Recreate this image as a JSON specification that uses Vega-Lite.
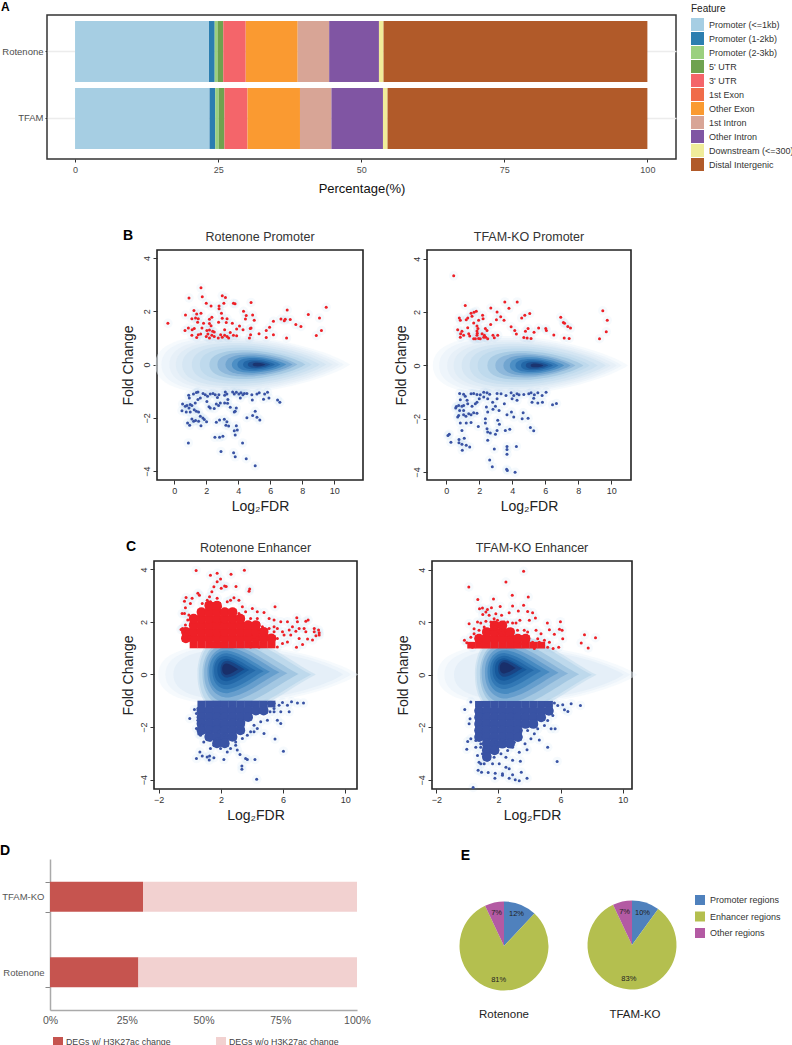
{"$schema":"https://vega.github.io/schema/vega-lite/v6.json","padding":0,"background":"white","bounds":"flush","spacing":0,
"resolve":{"scale":{"color":"independent","size":"independent","theta":"independent"},"legend":{"color":"independent"}},
"config":{"font":"Liberation Sans","axis":{"grid":false,"domain":false,"tickColor":"#333","tickSize":4,"labelColor":"#333","labelFontSize":9,"titleFontWeight":"normal","titleFontSize":14,"titleColor":"#222","titlePadding":7},"title":{"fontSize":12.5,"fontWeight":"normal","color":"#333","offset":7},"legend":{"symbolType":"square","titleFontWeight":"normal","labelColor":"#333","symbolStrokeWidth":0},"view":{"stroke":"#222","strokeWidth":1.6},
"style":{"flat":{"shape":"M-1,0C-1,-.22,-.7,-.31,-.2,-.3C.3,-.28,.8,-.13,1,0C.8,.13,.3,.28,-.2,.3C-.7,.31,-1,.22,-1,0Z","filled":true,"opacity":0.5,"strokeWidth":0,"clip":true},"round":{"shape":"M-1,0C-1,-.5,-.7,-.72,-.4,-.7C.1,-.62,.6,-.2,1,0C.6,.2,.1,.62,-.4,.7C-.7,.72,-1,.5,-1,0Z","filled":true,"opacity":0.5,"strokeWidth":0,"clip":true},"halo":{"filled":true,"size":90,"opacity":0.06,"color":"#6baed6","strokeWidth":0,"clip":true},"dot":{"filled":true,"size":9,"opacity":1,"strokeWidth":0,"clip":true},"blob":{"filled":true,"size":95,"opacity":1,"strokeWidth":0,"clip":true}}},
"datasets":{
"h1":[{"x":4.9,"y":0,"s":12.2,"d":0},{"x":4.9,"y":0,"s":11.4,"d":0.04},{"x":5,"y":0,"s":10.6,"d":0.08},{"x":5,"y":0,"s":9.8,"d":0.12},{"x":5,"y":0,"s":9,"d":0.18},{"x":5.1,"y":0,"s":8,"d":0.24},{"x":5.1,"y":0,"s":7,"d":0.3},{"x":5.2,"y":0,"s":6,"d":0.38},{"x":5.2,"y":0,"s":5,"d":0.45},{"x":5.3,"y":0,"s":4.2,"d":0.52},{"x":5.3,"y":0,"s":3.4,"d":0.6},{"x":5.3,"y":0,"s":2.7,"d":0.7},{"x":5.3,"y":0,"s":2,"d":0.8},{"x":5.3,"y":0,"s":1.4,"d":0.9},{"x":5.3,"y":0,"s":0.8,"d":1}],
"h2":[{"x":5.1,"y":0,"s":12.2,"d":0},{"x":5.1,"y":0,"s":11.4,"d":0.04},{"x":5.2,"y":0,"s":10.6,"d":0.08},{"x":5.2,"y":0,"s":9.8,"d":0.12},{"x":5.3,"y":0,"s":9,"d":0.18},{"x":5.3,"y":0,"s":8,"d":0.24},{"x":5.3,"y":0,"s":7,"d":0.3},{"x":5.4,"y":0,"s":6,"d":0.38},{"x":5.4,"y":0,"s":5,"d":0.45},{"x":5.5,"y":0,"s":4.2,"d":0.52},{"x":5.5,"y":0,"s":3.4,"d":0.6},{"x":5.5,"y":0,"s":2.7,"d":0.7},{"x":5.5,"y":0,"s":2,"d":0.8},{"x":5.5,"y":0,"s":1.4,"d":0.9},{"x":5.5,"y":0,"s":0.8,"d":1}],
"h3f":[{"x":4.4,"y":0,"s":12.5,"d":0},{"x":4.4,"y":0,"s":11.6,"d":0.04},{"x":4.4,"y":0,"s":10.6,"d":0.1}],
"h3r":[{"x":4.3,"y":0,"s":7.4,"d":0.25},{"x":4.2,"y":0,"s":7,"d":0.32},{"x":3.9,"y":0.02,"s":6,"d":0.4},{"x":3.6,"y":0.05,"s":5.2,"d":0.47},{"x":3.45,"y":0.08,"s":4.5,"d":0.55},{"x":3.2,"y":0.1,"s":3.8,"d":0.62},{"x":3.1,"y":0.12,"s":3.2,"d":0.7},{"x":2.9,"y":0.15,"s":2.6,"d":0.78},{"x":2.8,"y":0.17,"s":2,"d":0.85},{"x":2.75,"y":0.2,"s":1.5,"d":0.93},{"x":2.6,"y":0.2,"s":1,"d":1}],
"h4f":[{"x":4.5,"y":0,"s":12.5,"d":0},{"x":4.5,"y":0,"s":11.6,"d":0.04},{"x":4.6,"y":0,"s":10.6,"d":0.1}],
"h4r":[{"x":4.4,"y":0,"s":7.6,"d":0.25},{"x":4.3,"y":0,"s":7.2,"d":0.32},{"x":4,"y":0.02,"s":6.2,"d":0.4},{"x":3.7,"y":0.05,"s":5.4,"d":0.47},{"x":3.5,"y":0.08,"s":4.6,"d":0.55},{"x":3.3,"y":0.1,"s":3.9,"d":0.62},{"x":3.1,"y":0.14,"s":3.2,"d":0.7},{"x":2.95,"y":0.17,"s":2.6,"d":0.78},{"x":2.8,"y":0.2,"s":2,"d":0.85},{"x":2.75,"y":0.24,"s":1.5,"d":0.93},{"x":2.6,"y":0.26,"s":1,"d":1}],
"c1c":[{"x":0.25,"y":1.125},{"x":0.75,"y":1.125},{"x":1.25,"y":1.125},{"x":1.75,"y":1.125},{"x":2.25,"y":1.125},{"x":2.75,"y":1.125},{"x":3.25,"y":1.125},{"x":3.75,"y":1.125},{"x":4.25,"y":1.125},{"x":4.75,"y":1.125},{"x":5.25,"y":1.125},{"x":-0.25,"y":1.375},{"x":0.25,"y":1.375},{"x":0.75,"y":1.375},{"x":1.25,"y":1.375},{"x":1.75,"y":1.375},{"x":2.25,"y":1.375},{"x":2.75,"y":1.375},{"x":3.25,"y":1.375},{"x":3.75,"y":1.375},{"x":4.25,"y":1.375},{"x":4.75,"y":1.375},{"x":5.25,"y":1.375},{"x":-0.25,"y":1.625},{"x":0.25,"y":1.625},{"x":0.75,"y":1.625},{"x":1.25,"y":1.625},{"x":1.75,"y":1.625},{"x":2.25,"y":1.625},{"x":2.75,"y":1.625},{"x":3.25,"y":1.625},{"x":3.75,"y":1.625},{"x":4.25,"y":1.625},{"x":4.75,"y":1.625},{"x":0.25,"y":1.875},{"x":0.75,"y":1.875},{"x":1.25,"y":1.875},{"x":1.75,"y":1.875},{"x":2.25,"y":1.875},{"x":2.75,"y":1.875},{"x":3.25,"y":1.875},{"x":3.75,"y":1.875},{"x":4.25,"y":1.875},{"x":0.25,"y":2.125},{"x":0.75,"y":2.125},{"x":1.25,"y":2.125},{"x":1.75,"y":2.125},{"x":2.25,"y":2.125},{"x":2.75,"y":2.125},{"x":3.25,"y":2.125},{"x":0.75,"y":2.375},{"x":1.25,"y":2.375},{"x":1.75,"y":2.375},{"x":2.25,"y":2.375},{"x":2.75,"y":2.375},{"x":1.25,"y":2.625},{"x":1.75,"y":2.625},{"x":0.75,"y":-1.125},{"x":1.25,"y":-1.125},{"x":1.75,"y":-1.125},{"x":2.25,"y":-1.125},{"x":2.75,"y":-1.125},{"x":3.25,"y":-1.125},{"x":3.75,"y":-1.125},{"x":4.25,"y":-1.125},{"x":4.75,"y":-1.125},{"x":5.25,"y":-1.125},{"x":0.75,"y":-1.375},{"x":1.25,"y":-1.375},{"x":1.75,"y":-1.375},{"x":2.25,"y":-1.375},{"x":2.75,"y":-1.375},{"x":3.25,"y":-1.375},{"x":3.75,"y":-1.375},{"x":4.25,"y":-1.375},{"x":4.75,"y":-1.375},{"x":0.75,"y":-1.625},{"x":1.25,"y":-1.625},{"x":1.75,"y":-1.625},{"x":2.25,"y":-1.625},{"x":2.75,"y":-1.625},{"x":3.25,"y":-1.625},{"x":3.75,"y":-1.625},{"x":0.75,"y":-1.875},{"x":1.25,"y":-1.875},{"x":1.75,"y":-1.875},{"x":2.25,"y":-1.875},{"x":2.75,"y":-1.875},{"x":3.25,"y":-1.875},{"x":0.75,"y":-2.125},{"x":1.25,"y":-2.125},{"x":1.75,"y":-2.125},{"x":2.25,"y":-2.125},{"x":2.75,"y":-2.125},{"x":3.25,"y":-2.125},{"x":1.25,"y":-2.375},{"x":1.75,"y":-2.375},{"x":2.25,"y":-2.375},{"x":2.75,"y":-2.375},{"x":1.75,"y":-2.625},{"x":2.25,"y":-2.625}],
"c2c":[{"x":0.25,"y":1.125},{"x":0.75,"y":1.125},{"x":1.25,"y":1.125},{"x":1.75,"y":1.125},{"x":2.25,"y":1.125},{"x":2.75,"y":1.125},{"x":3.25,"y":1.125},{"x":3.75,"y":1.125},{"x":4.25,"y":1.125},{"x":4.75,"y":1.125},{"x":0.75,"y":1.375},{"x":1.25,"y":1.375},{"x":1.75,"y":1.375},{"x":2.25,"y":1.375},{"x":2.75,"y":1.375},{"x":3.25,"y":1.375},{"x":3.75,"y":1.375},{"x":1.25,"y":1.625},{"x":1.75,"y":1.625},{"x":2.25,"y":1.625},{"x":2.75,"y":1.625},{"x":1.75,"y":1.875},{"x":2.25,"y":1.875},{"x":0.75,"y":-1.125},{"x":1.25,"y":-1.125},{"x":1.75,"y":-1.125},{"x":2.25,"y":-1.125},{"x":2.75,"y":-1.125},{"x":3.25,"y":-1.125},{"x":3.75,"y":-1.125},{"x":4.25,"y":-1.125},{"x":4.75,"y":-1.125},{"x":5.25,"y":-1.125},{"x":0.75,"y":-1.375},{"x":1.25,"y":-1.375},{"x":1.75,"y":-1.375},{"x":2.25,"y":-1.375},{"x":2.75,"y":-1.375},{"x":3.25,"y":-1.375},{"x":3.75,"y":-1.375},{"x":4.25,"y":-1.375},{"x":4.75,"y":-1.375},{"x":5.25,"y":-1.375},{"x":0.75,"y":-1.625},{"x":1.25,"y":-1.625},{"x":1.75,"y":-1.625},{"x":2.25,"y":-1.625},{"x":2.75,"y":-1.625},{"x":3.25,"y":-1.625},{"x":3.75,"y":-1.625},{"x":4.25,"y":-1.625},{"x":4.75,"y":-1.625},{"x":0.75,"y":-1.875},{"x":1.25,"y":-1.875},{"x":1.75,"y":-1.875},{"x":2.25,"y":-1.875},{"x":2.75,"y":-1.875},{"x":3.25,"y":-1.875},{"x":3.75,"y":-1.875},{"x":4.25,"y":-1.875},{"x":0.75,"y":-2.125},{"x":1.25,"y":-2.125},{"x":1.75,"y":-2.125},{"x":2.25,"y":-2.125},{"x":2.75,"y":-2.125},{"x":3.25,"y":-2.125},{"x":0.75,"y":-2.375},{"x":1.25,"y":-2.375},{"x":1.75,"y":-2.375},{"x":2.25,"y":-2.375},{"x":2.75,"y":-2.375},{"x":3.25,"y":-2.375},{"x":1.25,"y":-2.625},{"x":1.75,"y":-2.625},{"x":2.25,"y":-2.625},{"x":2.75,"y":-2.625},{"x":1.25,"y":-2.875},{"x":1.75,"y":-2.875},{"x":1.25,"y":-3.125}],
"b1":[{"x":-0.4,"y":1.55},{"x":1.67,"y":2.88},{"x":0.92,"y":2.5},{"x":1.75,"y":2.55},{"x":3,"y":2.58},{"x":3.2,"y":2.52},{"x":2,"y":2.3},{"x":2.3,"y":2.2},{"x":2.8,"y":2.2},{"x":2.8,"y":2.1},{"x":3.1,"y":2.3},{"x":3.7,"y":2.3},{"x":3.8,"y":2.28},{"x":4.8,"y":2.33},{"x":1.23,"y":2.03},{"x":0.7,"y":1.86},{"x":1.4,"y":1.9},{"x":1.67,"y":1.93},{"x":2.95,"y":1.93},{"x":4.33,"y":2},{"x":4.5,"y":1.84},{"x":4.9,"y":1.86},{"x":1.1,"y":1.72},{"x":1.33,"y":1.75},{"x":1.5,"y":1.72},{"x":2.35,"y":1.78},{"x":2.2,"y":1.7},{"x":3,"y":1.74},{"x":3.3,"y":1.72},{"x":4.45,"y":1.71},{"x":5,"y":1.66},{"x":1.46,"y":1.59},{"x":1.83,"y":1.55},{"x":2.2,"y":1.54},{"x":2.77,"y":1.59},{"x":3.25,"y":1.58},{"x":3.63,"y":1.55},{"x":2.3,"y":1.46},{"x":4.08,"y":1.45},{"x":6.2,"y":1.63},{"x":6.67,"y":1.71},{"x":6.88,"y":1.65},{"x":6.94,"y":1.7},{"x":7.06,"y":2.05},{"x":7.25,"y":1.69},{"x":7.6,"y":1.5},{"x":7.92,"y":1.43},{"x":8.38,"y":1.88},{"x":9.08,"y":1.75},{"x":9.5,"y":2.15},{"x":9.2,"y":1.28},{"x":8.88,"y":1.09},{"x":0.88,"y":1.37},{"x":0.67,"y":1.28},{"x":1.12,"y":1.31},{"x":1.25,"y":1.35},{"x":1.73,"y":1.37},{"x":2.04,"y":1.28},{"x":2.2,"y":1.3},{"x":2.4,"y":1.25},{"x":2.5,"y":1.22},{"x":3.15,"y":1.31},{"x":3.9,"y":1.34},{"x":4.3,"y":1.31},{"x":4.75,"y":1.35},{"x":4.8,"y":1.37},{"x":5.96,"y":1.4},{"x":5.75,"y":1.28},{"x":6.2,"y":1.12},{"x":5.3,"y":1.16},{"x":4.77,"y":1.12},{"x":4.7,"y":1},{"x":5.75,"y":1.02},{"x":7.02,"y":1},{"x":1.1,"y":1.1},{"x":1.4,"y":1.02},{"x":1.5,"y":1.12},{"x":1.65,"y":1.15},{"x":2,"y":1.05},{"x":2.1,"y":1.15},{"x":2.2,"y":1},{"x":2.35,"y":1.1},{"x":2.5,"y":1.05},{"x":2.75,"y":1},{"x":2.9,"y":1.12},{"x":3,"y":1.03},{"x":3.15,"y":1.1},{"x":3.3,"y":1.05},{"x":3.4,"y":1},{"x":3.7,"y":1.1},{"x":3.5,"y":1.2},{"x":3.9,"y":1.08},
{"x":0.9,"y":-1.15},{"x":0.94,"y":-1.25},{"x":1.2,"y":-1.1},{"x":1.38,"y":-1.05},{"x":1.48,"y":-1.03},{"x":1.8,"y":-1.08},{"x":1.94,"y":-1.13},{"x":2.08,"y":-1.19},{"x":2.25,"y":-1.1},{"x":2.42,"y":-1.08},{"x":2.56,"y":-1.13},{"x":2.7,"y":-1.23},{"x":2.79,"y":-1.13},{"x":3.19,"y":-1.03},{"x":3.15,"y":-1.15},{"x":3.29,"y":-1.1},{"x":3.65,"y":-1.03},{"x":3.75,"y":-1.1},{"x":3.88,"y":-1.04},{"x":4.04,"y":-1.1},{"x":4.17,"y":-1.06},{"x":4.29,"y":-1.13},{"x":4.38,"y":-1.08},{"x":4.54,"y":-1.08},{"x":4.85,"y":-1.13},{"x":5.17,"y":-1.1},{"x":5.31,"y":-1.06},{"x":5.65,"y":-1.1},{"x":5.83,"y":-1.04},{"x":5.92,"y":-1.25},{"x":5.58,"y":-1.3},{"x":4.88,"y":-1.33},{"x":4.13,"y":-1.25},{"x":3.35,"y":-1.31},{"x":3.33,"y":-1.45},{"x":3.15,"y":-1.44},{"x":2.77,"y":-1.53},{"x":2.63,"y":-1.48},{"x":2.88,"y":-1.44},{"x":2.17,"y":-1.58},{"x":2.04,"y":-1.38},{"x":1.63,"y":-1.25},{"x":1.48,"y":-1.31},{"x":1.31,"y":-1.44},{"x":1.1,"y":-1.53},{"x":1,"y":-1.5},{"x":0.79,"y":-1.53},{"x":0.52,"y":-1.48},{"x":0.69,"y":-1.56},{"x":0.92,"y":-1.63},{"x":1.25,"y":-1.69},{"x":0.48,"y":-1.73},{"x":0.75,"y":-1.78},{"x":1,"y":-1.78},{"x":1.38,"y":-1.75},{"x":1.52,"y":-1.78},{"x":1.63,"y":-1.94},{"x":1.79,"y":-2},{"x":1.88,"y":-2.06},{"x":2.25,"y":-1.63},{"x":2.5,"y":-1.65},{"x":3.5,"y":-1.6},{"x":3.88,"y":-1.63},{"x":3.81,"y":-1.75},{"x":3.75,"y":-1.78},{"x":5.06,"y":-1.75},{"x":4.9,"y":-1.91},{"x":5.17,"y":-1.98},{"x":5.35,"y":-2.08},{"x":4.54,"y":-1.99},{"x":1.1,"y":-2.04},{"x":1.21,"y":-2.13},{"x":1.33,"y":-2.1},{"x":1.52,"y":-2.13},{"x":0.83,"y":-2.19},{"x":0.96,"y":-2.28},{"x":1.67,"y":-2.29},{"x":2.02,"y":-2.14},{"x":2.63,"y":-2.16},{"x":2.83,"y":-2.08},{"x":3.13,"y":-2.05},{"x":3.29,"y":-2.14},{"x":3.23,"y":-2.28},{"x":3.4,"y":-2.3},{"x":3.88,"y":-2.29},{"x":3.94,"y":-2.45},{"x":3.75,"y":-2.48},{"x":3.81,"y":-2.64},{"x":2.54,"y":-2.73},{"x":2.83,"y":-2.73},{"x":3.04,"y":-2.69},{"x":4.27,"y":-2.94},{"x":0.88,"y":-2.94},{"x":2.92,"y":-3.26},{"x":3.71,"y":-3.31},{"x":3.81,"y":-3.46},{"x":4.5,"y":-3.53},{"x":5.06,"y":-3.8},{"x":6.46,"y":-1.33},{"x":6.6,"y":-1.41}],
"b2":[{"x":0.45,"y":3.36},{"x":1.15,"y":2.25},{"x":3.55,"y":2.38},{"x":4.3,"y":2.38},{"x":2.7,"y":2.15},{"x":3.8,"y":2.14},{"x":3.08,"y":2},{"x":3.3,"y":1.83},{"x":3.04,"y":1.71},{"x":3.5,"y":1.69},{"x":1.5,"y":1.96},{"x":1.68,"y":1.99},{"x":1.82,"y":2.03},{"x":2.2,"y":1.88},{"x":2.23,"y":1.75},{"x":1.96,"y":1.69},{"x":1.56,"y":1.84},{"x":1.3,"y":1.78},{"x":1.21,"y":1.71},{"x":0.79,"y":1.78},{"x":0.85,"y":1.69},{"x":4.57,"y":1.78},{"x":4.76,"y":1.88},{"x":5.06,"y":1.95},{"x":6.94,"y":1.81},{"x":7.1,"y":1.61},{"x":7.17,"y":1.58},{"x":7.37,"y":1.46},{"x":7.53,"y":1.4},{"x":9.49,"y":2.05},{"x":9.76,"y":1.69},{"x":9.7,"y":1.26},{"x":9.29,"y":1},{"x":7.15,"y":1.03},{"x":7.45,"y":1.01},{"x":6.52,"y":1.14},{"x":6.03,"y":1.38},{"x":6.07,"y":1.31},{"x":5.6,"y":1.4},{"x":5.32,"y":1.24},{"x":4.96,"y":1.38},{"x":4.8,"y":1.28},{"x":4.7,"y":1.05},{"x":4.9,"y":1.03},{"x":5.14,"y":1.01},{"x":4.25,"y":1.18},{"x":4.15,"y":1.31},{"x":3.93,"y":1.45},{"x":1.66,"y":1.59},{"x":1.86,"y":1.48},{"x":1.92,"y":1.38},{"x":1.86,"y":1.29},{"x":1.88,"y":1.21},{"x":0.69,"y":1.34},{"x":0.95,"y":1.28},{"x":0.87,"y":1.19},{"x":0.85,"y":1.06},{"x":1.05,"y":1.13},{"x":1.3,"y":1.41},{"x":1.36,"y":1.19},{"x":1.42,"y":1.1},{"x":1.66,"y":1},{"x":1.76,"y":1},{"x":1.96,"y":1.01},{"x":2.06,"y":1},{"x":1.86,"y":1.13},{"x":2.17,"y":1.19},{"x":2.37,"y":1.38},{"x":2.47,"y":1.31},{"x":2.31,"y":1.13},{"x":2.39,"y":1.06},{"x":2.51,"y":1},{"x":2.83,"y":1.13},{"x":2.91,"y":1.04},{"x":3.12,"y":1.13},{"x":2.69,"y":1.53},{"x":2.27,"y":1.06},
{"x":0.81,"y":-1.05},{"x":1.05,"y":-1.08},{"x":1.15,"y":-1.16},{"x":0.85,"y":-1.29},{"x":1.26,"y":-1.31},{"x":1.5,"y":-1.06},{"x":1.66,"y":-1.05},{"x":1.86,"y":-1.09},{"x":2.06,"y":-1.1},{"x":2.27,"y":-1.01},{"x":2.47,"y":-1.03},{"x":2.63,"y":-1.08},{"x":2.51,"y":-1.25},{"x":2.27,"y":-1.19},{"x":2,"y":-1.25},{"x":1.86,"y":-1.38},{"x":1.76,"y":-1.44},{"x":1.56,"y":-1.53},{"x":1.3,"y":-1.44},{"x":1.05,"y":-1.5},{"x":0.95,"y":-1.53},{"x":0.75,"y":-1.5},{"x":0.61,"y":-1.54},{"x":0.57,"y":-1.6},{"x":0.81,"y":-1.69},{"x":1.05,"y":-1.69},{"x":0.69,"y":-1.94},{"x":0.75,"y":-1.88},{"x":1.05,"y":-1.85},{"x":1.19,"y":-1.91},{"x":1.36,"y":-1.81},{"x":1.5,"y":-1.85},{"x":1.86,"y":-1.8},{"x":1.66,"y":-1.78},{"x":3.08,"y":-1.05},{"x":3.32,"y":-1.06},{"x":3.62,"y":-1.13},{"x":3.93,"y":-1.03},{"x":4.09,"y":-1.13},{"x":4.29,"y":-1.06},{"x":4.41,"y":-1.1},{"x":4.7,"y":-1.09},{"x":5,"y":-1.06},{"x":5.14,"y":-1.03},{"x":5.34,"y":-1.1},{"x":5.55,"y":-1.03},{"x":5.81,"y":-1.13},{"x":6.05,"y":-1.01},{"x":3.08,"y":-1.25},{"x":3.52,"y":-1.44},{"x":3.99,"y":-1.25},{"x":4.29,"y":-1.31},{"x":5.3,"y":-1.23},{"x":5.2,"y":-1.38},{"x":5.55,"y":-1.41},{"x":5.83,"y":-1.38},{"x":6.44,"y":-1.48},{"x":6.68,"y":-1.43},{"x":2.81,"y":-1.38},{"x":2.98,"y":-1.53},{"x":2.83,"y":-1.65},{"x":3.2,"y":-1.69},{"x":2.43,"y":-1.56},{"x":2.51,"y":-1.75},{"x":3.68,"y":-1.85},{"x":3.95,"y":-1.75},{"x":4.09,"y":-1.94},{"x":4.66,"y":-1.78},{"x":4.6,"y":-2},{"x":4.96,"y":-1.98},{"x":2.37,"y":-2},{"x":3.12,"y":-2.06},{"x":3.22,"y":-2.21},{"x":0.85,"y":-2.16},{"x":1.21,"y":-2.16},{"x":1.5,"y":-2.14},{"x":0.95,"y":-2.44},{"x":1.94,"y":-2.29},{"x":2.37,"y":-2.16},{"x":2.47,"y":-2.38},{"x":2.51,"y":-2.5},{"x":2.67,"y":-2.54},{"x":2.98,"y":-2.58},{"x":3.08,"y":-2.44},{"x":3.58,"y":-2.44},{"x":3.85,"y":-2.4},{"x":5.1,"y":-2.33},{"x":5.3,"y":-2.45},{"x":0.18,"y":-2.58},{"x":0.1,"y":-2.63},{"x":0.28,"y":-2.88},{"x":0.77,"y":-2.78},{"x":1.09,"y":-2.73},{"x":0.77,"y":-2.9},{"x":0.95,"y":-2.96},{"x":1.21,"y":-3},{"x":1.42,"y":-3.06},{"x":0.97,"y":-3.18},{"x":2.51,"y":-2.81},{"x":2.91,"y":-3.14},{"x":3.68,"y":-3.04},{"x":3.68,"y":-3.16},{"x":3.68,"y":-3.33},{"x":4.25,"y":-3.04},{"x":2.63,"y":-3.55},{"x":2.79,"y":-3.8},{"x":3.66,"y":-3.9},{"x":3.7,"y":-3.94},{"x":4.17,"y":-4.01}],
"c1":[{"x":0.41,"y":3.96},{"x":3.51,"y":3.97},{"x":1.33,"y":3.78},{"x":1.76,"y":3.85},{"x":2.65,"y":3.82},{"x":1.98,"y":3.63},{"x":1.76,"y":3.53},{"x":1.55,"y":3.34},{"x":2.24,"y":3.37},{"x":2.34,"y":3.35},{"x":2.97,"y":3.35},{"x":2.02,"y":3.28},{"x":1.42,"y":3.15},{"x":1.27,"y":2.96},{"x":3.85,"y":3.25},{"x":3.81,"y":3.17},{"x":0.52,"y":3.09},{"x":0.62,"y":3.02},{"x":-0.24,"y":2.93},{"x":-0.34,"y":2.79},{"x":0.15,"y":2.9},{"x":2.84,"y":2.92},{"x":3.16,"y":2.83},{"x":0.04,"y":2.7},{"x":2.62,"y":2.83},{"x":-0.28,"y":2.54},{"x":-0.49,"y":2.32},{"x":-0.34,"y":2.32},{"x":-0.47,"y":1.75},{"x":-0.28,"y":1.88},{"x":-0.13,"y":2.07},{"x":-0.22,"y":1.63},{"x":-0.04,"y":1.43},{"x":-0.56,"y":1.71},{"x":-0.06,"y":2.26},{"x":5.48,"y":2.58},{"x":3.38,"y":2.58},{"x":4.02,"y":2.51},{"x":4.34,"y":2.39},{"x":4.77,"y":2.36},{"x":4.34,"y":2.13},{"x":5.1,"y":2.13},{"x":5.42,"y":2.07},{"x":5.85,"y":2.01},{"x":6.28,"y":2.01},{"x":6.88,"y":2.16},{"x":6.92,"y":2.01},{"x":7.46,"y":2.03},{"x":7.61,"y":2.07},{"x":6.6,"y":1.82},{"x":7.35,"y":1.75},{"x":8,"y":1.75},{"x":8.28,"y":1.69},{"x":8,"y":1.63},{"x":8.32,"y":1.59},{"x":8.11,"y":1.47},{"x":8.32,"y":1.5},{"x":7.46,"y":1.63},{"x":7.03,"y":1.37},{"x":7.57,"y":1.35},{"x":7.89,"y":1.31},{"x":7.25,"y":1.14},{"x":6.86,"y":1.04},{"x":6.49,"y":1.5},{"x":6.28,"y":1.24},{"x":5.96,"y":1.63},{"x":5.63,"y":1.75},{"x":5.42,"y":1.63},{"x":5.1,"y":1.75},{"x":4.67,"y":1.82},{"x":4.99,"y":1.5},{"x":5.63,"y":1.37},{"x":5.96,"y":1.18},{"x":5.63,"y":1.05},{"x":5.2,"y":1.12},{"x":4.99,"y":1.37},{"x":4.45,"y":1.63},{"x":4.24,"y":1.88},{"x":3.91,"y":2.13},{"x":3.59,"y":2.39},{"x":3.16,"y":2.32},{"x":4.13,"y":1.43},{"x":4.67,"y":1.24},{"x":4.45,"y":1.05},{"x":3.91,"y":1.05},{"x":2.41,"y":2.77},{"x":1.33,"y":2.77},{"x":1.76,"y":2.9},{"x":1.12,"y":2.83},{"x":0.8,"y":2.7},{"x":1.98,"y":2.58},{"x":5.42,"y":1.82},{"x":6.39,"y":1.69},{"x":6.06,"y":1.5},{"x":6.82,"y":1.65},{"x":7.03,"y":1.75},
{"x":0,"y":-1.68},{"x":0.3,"y":-1.33},{"x":0.52,"y":-1.3},{"x":0.43,"y":-1.49},{"x":0.43,"y":-2.06},{"x":0.58,"y":-2.27},{"x":0.65,"y":-2.95},{"x":0.43,"y":-3.2},{"x":0.8,"y":-3.1},{"x":1.12,"y":-3.14},{"x":1.27,"y":-3.1},{"x":1.25,"y":-3.26},{"x":2.19,"y":-3.24},{"x":1.55,"y":-3.17},{"x":3.23,"y":-3.05},{"x":3.59,"y":-3.2},{"x":3.7,"y":-3.24},{"x":4.19,"y":-3.24},{"x":3.35,"y":-3.48},{"x":3.35,"y":-3.61},{"x":4.3,"y":-3.99},{"x":5.48,"y":-2.46},{"x":6.02,"y":-2.92},{"x":6.39,"y":-1.42},{"x":6.92,"y":-1.09},{"x":7.31,"y":-1.09},{"x":5.96,"y":-1.07},{"x":6.28,"y":-1.17},{"x":6.54,"y":-1.04},{"x":5.74,"y":-1.17},{"x":5.42,"y":-1.3},{"x":5.16,"y":-1.42},{"x":5.63,"y":-1.74},{"x":5.85,"y":-1.87},{"x":4.77,"y":-2.25},{"x":4.34,"y":-2.06},{"x":3.91,"y":-2.18},{"x":3.38,"y":-2.44},{"x":2.95,"y":-2.69},{"x":2.41,"y":-2.95},{"x":1.98,"y":-2.82},{"x":1.33,"y":-2.82},{"x":0.9,"y":-2.57},{"x":0.69,"y":-2.31},{"x":1.01,"y":-2.18},{"x":1.33,"y":-2.5},{"x":1.76,"y":-2.44},{"x":2.19,"y":-2.31},{"x":2.41,"y":-2.57},{"x":2.84,"y":-2.18},{"x":3.16,"y":-2.06},{"x":3.48,"y":-1.8},{"x":3.91,"y":-1.68},{"x":4.34,"y":-1.49},{"x":4.77,"y":-1.3},{"x":4.99,"y":-1.74},{"x":5.42,"y":-1.42},{"x":4.56,"y":-1.8},{"x":4.13,"y":-1.93},{"x":2.95,"y":-2.57},{"x":2.62,"y":-2.82},{"x":2.3,"y":-2.69},{"x":1.55,"y":-2.69},{"x":1.12,"y":-2.37},{"x":0.52,"y":-1.74},{"x":0.8,"y":-1.93},{"x":3.05,"y":-2.88},{"x":4.99,"y":-1.1},{"x":5.42,"y":-1.1},{"x":5.85,"y":-1.42},{"x":1.87,"y":-2.18},{"x":1.33,"y":-2.18},{"x":2.73,"y":-2.37},{"x":3.38,"y":-2.06},{"x":3.7,"y":-2.31},{"x":4.13,"y":-2.18}],
"c2":[{"x":3.62,"y":3.94},{"x":2.48,"y":3.53},{"x":0.09,"y":3.34},{"x":2.89,"y":3.03},{"x":0.67,"y":2.86},{"x":1.68,"y":2.88},{"x":3.92,"y":2.96},{"x":0.78,"y":2.51},{"x":2.91,"y":2.62},{"x":3.62,"y":2.65},{"x":0.97,"y":2.54},{"x":1.55,"y":2.55},{"x":2.11,"y":2.6},{"x":1.29,"y":2.48},{"x":1.19,"y":2.39},{"x":3.28,"y":2.43},{"x":2.69,"y":2.36},{"x":3.88,"y":2.41},{"x":4.2,"y":2.36},{"x":1.83,"y":2.32},{"x":2.2,"y":2.26},{"x":0.99,"y":2.29},{"x":0.86,"y":1.97},{"x":0.11,"y":1.94},{"x":4.38,"y":2.16},{"x":3.99,"y":2.07},{"x":3.38,"y":2.07},{"x":2.59,"y":2.01},{"x":2.91,"y":1.97},{"x":3.13,"y":1.97},{"x":5.15,"y":1.97},{"x":5.99,"y":2.02},{"x":5.93,"y":1.73},{"x":6.1,"y":1.69},{"x":6.14,"y":1.37},{"x":5.28,"y":1.71},{"x":5.6,"y":1.54},{"x":4.74,"y":1.56},{"x":4.42,"y":1.69},{"x":7.54,"y":1.52},{"x":7.33,"y":1.21},{"x":8.25,"y":1.41},{"x":7.78,"y":1.02},{"x":5.88,"y":1.05},{"x":5.52,"y":1},{"x":5.17,"y":1.05},{"x":5.28,"y":1.24},{"x":4.96,"y":1.31},{"x":4.53,"y":1.37},{"x":4.2,"y":1.24},{"x":3.88,"y":1.63},{"x":3.66,"y":1.69},{"x":3.23,"y":1.69},{"x":2.91,"y":1.69},{"x":2.48,"y":1.69},{"x":2.37,"y":2.01},{"x":1.94,"y":2.07},{"x":1.51,"y":2.01},{"x":1.19,"y":2.04},{"x":1.08,"y":1.82},{"x":0.75,"y":1.69},{"x":0.43,"y":1.75},{"x":0.43,"y":1.56},{"x":0.65,"y":1.43},{"x":0.22,"y":1.43},{"x":-0.19,"y":1.31},{"x":-0.04,"y":1.22},{"x":0.32,"y":1.05},{"x":3.02,"y":1.43},{"x":3.45,"y":1.43},{"x":3.88,"y":1.31},{"x":4.31,"y":1.18},{"x":4.74,"y":1.12},{"x":2.69,"y":1.43},{"x":2.37,"y":1.56},{"x":1.83,"y":1.82},{"x":1.51,"y":1.75},{"x":1.08,"y":1.56},{"x":0.86,"y":1.31},{"x":3.45,"y":1.18},{"x":3.88,"y":1.12},{"x":4.31,"y":1},{"x":4.63,"y":1.24},{"x":1.94,"y":1.56},{"x":2.16,"y":1.69},{"x":1.4,"y":2.26},{"x":1.72,"y":2.13},{"x":0.65,"y":2.01},{"x":2.05,"y":1.94},
{"x":-0.17,"y":-1.32},{"x":0.22,"y":-1.04},{"x":0.17,"y":-1.68},{"x":0.11,"y":-1.87},{"x":0.02,"y":-2.54},{"x":-0.04,"y":-2.84},{"x":0.22,"y":-2.44},{"x":0.54,"y":-2.5},{"x":0.65,"y":-3.07},{"x":0.69,"y":-3.64},{"x":0.75,"y":-3.33},{"x":0.91,"y":-3.71},{"x":1.34,"y":-3.72},{"x":1.79,"y":-3.75},{"x":1.77,"y":-3.94},{"x":2.26,"y":-3.77},{"x":2.26,"y":-3.83},{"x":2.69,"y":-3.94},{"x":2.91,"y":-3.81},{"x":3.08,"y":-4},{"x":3.34,"y":-4.04},{"x":3.47,"y":-3.71},{"x":3.84,"y":-3.94},{"x":0.37,"y":-4.29},{"x":5.78,"y":-3.3},{"x":5.17,"y":-2.76},{"x":4.63,"y":-2.48},{"x":4.31,"y":-2.25},{"x":3.88,"y":-2.12},{"x":3.45,"y":-2.37},{"x":3.02,"y":-2.57},{"x":2.59,"y":-2.88},{"x":2.16,"y":-3.01},{"x":1.72,"y":-3.14},{"x":1.29,"y":-3.26},{"x":1.08,"y":-3.39},{"x":0.97,"y":-3.01},{"x":1.62,"y":-3.39},{"x":2.48,"y":-3.52},{"x":3.41,"y":-3.29},{"x":2.91,"y":-3.26},{"x":3.34,"y":-2.95},{"x":3.84,"y":-2.86},{"x":4.53,"y":-2.06},{"x":4.96,"y":-1.93},{"x":5.39,"y":-2.06},{"x":5.65,"y":-2.06},{"x":5.5,"y":-1.55},{"x":5.17,"y":-1.74},{"x":4.85,"y":-1.68},{"x":4.42,"y":-1.8},{"x":3.99,"y":-1.93},{"x":5.28,"y":-1.08},{"x":5.6,"y":-1.08},{"x":5.82,"y":-1.17},{"x":6.14,"y":-1.14},{"x":6.25,"y":-1.33},{"x":6.47,"y":-1.4},{"x":6.68,"y":-1.1},{"x":7.28,"y":-1.17},{"x":3.71,"y":-2.63},{"x":4.09,"y":-2.44},{"x":2.48,"y":-3.14},{"x":1.94,"y":-2.76},{"x":1.51,"y":-2.88},{"x":0.86,"y":-2.76},{"x":0.54,"y":-2.76},{"x":3.45,"y":-2.12},{"x":2.91,"y":-2.76},{"x":2.37,"y":-2.57},{"x":1.83,"y":-2.57},{"x":1.19,"y":-2.76},{"x":0.86,"y":-2.63},{"x":2.05,"y":-3.39},{"x":2.69,"y":-3.58},{"x":0.86,"y":-3.39}]
},
"vconcat":[
{"title":{"text":"A","anchor":"start","frame":"group","dx":-46,"dy":12,"fontWeight":"bold","fontSize":12,"color":"#000","offset":2},"width":629,"height":144,"view":{"stroke":"#333","strokeWidth":1.5},
"data":{"values":[{"s":"Rotenone","f":"Promoter (<=1kb)","v":23.4,"o":1},{"s":"Rotenone","f":"Promoter (1-2kb)","v":1,"o":2},{"s":"Rotenone","f":"Promoter (2-3kb)","v":0.5,"o":3},{"s":"Rotenone","f":"5' UTR","v":1,"o":4},{"s":"Rotenone","f":"3' UTR","v":3.9,"o":5},{"s":"Rotenone","f":"1st Exon","v":0.05,"o":6},{"s":"Rotenone","f":"Other Exon","v":9.05,"o":7},{"s":"Rotenone","f":"1st Intron","v":5.5,"o":8},{"s":"Rotenone","f":"Other Intron","v":8.7,"o":9},{"s":"Rotenone","f":"Downstream (<=300)","v":0.8,"o":10},{"s":"Rotenone","f":"Distal Intergenic","v":46.1,"o":11},{"s":"TFAM","f":"Promoter (<=1kb)","v":23.5,"o":1},{"s":"TFAM","f":"Promoter (1-2kb)","v":1,"o":2},{"s":"TFAM","f":"Promoter (2-3kb)","v":0.6,"o":3},{"s":"TFAM","f":"5' UTR","v":1,"o":4},{"s":"TFAM","f":"3' UTR","v":4,"o":5},{"s":"TFAM","f":"1st Exon","v":0.05,"o":6},{"s":"TFAM","f":"Other Exon","v":9.15,"o":7},{"s":"TFAM","f":"1st Intron","v":5.5,"o":8},{"s":"TFAM","f":"Other Intron","v":9,"o":9},{"s":"TFAM","f":"Downstream (<=300)","v":0.8,"o":10},{"s":"TFAM","f":"Distal Intergenic","v":45.4,"o":11}]},
"mark":{"type":"bar"},
"encoding":{"y":{"field":"s","type":"nominal","title":null,"sort":["Rotenone","TFAM"],"scale":{"paddingInner":0.09,"paddingOuter":0.12,"align":0.375},"axis":{"grid":true,"gridColor":"#ececec","gridWidth":1.5,"tickSize":2,"labelColor":"#4d4d4d","labelFontSize":9.5,"labelPadding":2}},
"x":{"field":"v","type":"quantitative","stack":"zero","title":"Percentage(%)","scale":{"domain":[-4.9,105],"nice":false,"zero":false},"axis":{"values":[0,25,50,75,100],"tickSize":3,"labelColor":"#4d4d4d","labelFontSize":9,"labelPadding":3,"titleFontSize":13,"titleColor":"#111","titlePadding":8}},
"order":{"field":"o"},
"color":{"field":"f","type":"nominal","sort":null,"title":"Feature","scale":{"domain":["Promoter (<=1kb)","Promoter (1-2kb)","Promoter (2-3kb)","5' UTR","3' UTR","1st Exon","Other Exon","1st Intron","Other Intron","Downstream (<=300)","Distal Intergenic"],"range":["#a6cee3","#2b7eb0","#9bd07f","#6fa24f","#f4656a","#f06c4a","#fa9a31","#d8a596","#8055a3","#f0ec9a","#b15a29"]},"legend":{"orient":"none","legendX":644,"legendY":-11,"symbolSize":169,"rowPadding":1,"titleFontSize":10,"titleColor":"#222","labelFontSize":9,"labelOffset":5,"titlePadding":4}}}},
{"data":{"values":[{}]},"mark":{"type":"point","opacity":0},"width":1,"height":91,"view":{"stroke":null}},
{"hconcat":[
{"title":{"text":"B","anchor":"end","dx":-24,"fontWeight":"bold","fontSize":14,"color":"#000"},"data":{"values":[{}]},"mark":{"type":"point","opacity":0},"width":110,"height":10,"view":{"stroke":null}},
{"title":"Rotenone Promoter","width":206,"height":230,"layer":[
{"data":{"name":"h1"},"mark":{"type":"point","style":"flat"},"encoding":{"x":{"field":"x","type":"quantitative","title":"Log₂FDR","scale":{"domain":[-1.08,11.8],"nice":false,"zero":false},"axis":{"values":[0,2,4,6,8,10],"titlePadding":4}},"y":{"field":"y","type":"quantitative","title":"Fold Change","scale":{"domain":[-4.33,4.3],"nice":false,"zero":false},"axis":{"values":[-4,-2,0,2,4],"labelAngle":-90}},"size":{"field":"s","type":"quantitative","legend":null,"scale":{"type":"pow","exponent":2,"domain":[0,10],"range":[0,25600]}},"color":{"field":"d","type":"quantitative","legend":null,"scale":{"domain":[0,0.3,0.6,0.85,1],"range":["#eef5fb","#b4d3e9","#2a7ab9","#0b4a90","#1a1a50"]}}}},
{"data":{"name":"b1"},"mark":{"type":"point","style":"halo"},"encoding":{"x":{"field":"x","type":"quantitative"},"y":{"field":"y","type":"quantitative"}}},
{"data":{"name":"b1"},"mark":{"type":"point","style":"dot"},"encoding":{"x":{"field":"x","type":"quantitative"},"y":{"field":"y","type":"quantitative"},"color":{"condition":{"test":"datum.y>0","value":"#ee2027"},"value":"#3953a4"}}}]},
{"data":{"values":[{}]},"mark":{"type":"point","opacity":0},"width":64,"height":10,"view":{"stroke":null}},
{"title":"TFAM-KO Promoter","width":204,"height":230,"layer":[
{"data":{"name":"h2"},"mark":{"type":"point","style":"flat"},"encoding":{"x":{"field":"x","type":"quantitative","title":"Log₂FDR","scale":{"domain":[-1.17,11.2],"nice":false,"zero":false},"axis":{"values":[0,2,4,6,8,10],"titlePadding":4}},"y":{"field":"y","type":"quantitative","title":"Fold Change","scale":{"domain":[-4.3,4.33],"nice":false,"zero":false},"axis":{"values":[-4,-2,0,2,4],"labelAngle":-90,"titlePadding":4}},"size":{"field":"s","type":"quantitative","legend":null,"scale":{"type":"pow","exponent":2,"domain":[0,10],"range":[0,25600]}},"color":{"field":"d","type":"quantitative","legend":null,"scale":{"domain":[0,0.3,0.6,0.85,1],"range":["#eef5fb","#b4d3e9","#2a7ab9","#0b4a90","#1a1a50"]}}}},
{"data":{"name":"b2"},"mark":{"type":"point","style":"halo"},"encoding":{"x":{"field":"x","type":"quantitative"},"y":{"field":"y","type":"quantitative"}}},
{"data":{"name":"b2"},"mark":{"type":"point","style":"dot"},"encoding":{"x":{"field":"x","type":"quantitative"},"y":{"field":"y","type":"quantitative"},"color":{"condition":{"test":"datum.y>0","value":"#ee2027"},"value":"#3953a4"}}}]}
],"spacing":0,"bounds":"flush","resolve":{"scale":{"color":"independent","size":"independent"}}},
{"data":{"values":[{}]},"mark":{"type":"point","opacity":0},"width":1,"height":311,"view":{"stroke":null}},
{"hconcat":[
{"title":{"text":"C","anchor":"end","dx":-18,"fontWeight":"bold","fontSize":14,"color":"#000"},"data":{"values":[{}]},"mark":{"type":"point","opacity":0},"width":107,"height":10,"view":{"stroke":null}},
{"title":"Rotenone Enhancer","width":203,"height":228,"layer":[
{"data":{"name":"h3f"},"mark":{"type":"point","style":"flat"},"encoding":{"x":{"field":"x","type":"quantitative","title":"Log₂FDR","scale":{"domain":[-2.3,10.75],"nice":false,"zero":false},"axis":{"values":[-2,0,2,4,6,8,10],"titlePadding":4}},"y":{"field":"y","type":"quantitative","title":"Fold Change","scale":{"domain":[-4.36,4.32],"nice":false,"zero":false},"axis":{"values":[-4,-2,0,2,4],"labelAngle":-90,"titlePadding":4}},"size":{"field":"s","type":"quantitative","legend":null,"scale":{"type":"pow","exponent":2,"domain":[0,10],"range":[0,25600]}},"color":{"field":"d","type":"quantitative","legend":null,"scale":{"domain":[0,0.3,0.6,0.85,1],"range":["#eef5fb","#b4d3e9","#2a7ab9","#0b4a90","#1a1a50"]}}}},
{"data":{"name":"h3r"},"mark":{"type":"point","style":"round"},"encoding":{"x":{"field":"x","type":"quantitative"},"y":{"field":"y","type":"quantitative"},"size":{"field":"s","type":"quantitative","legend":null},"color":{"field":"d","type":"quantitative","legend":null}}},
{"data":{"name":"c1"},"mark":{"type":"point","style":"halo"},"encoding":{"x":{"field":"x","type":"quantitative"},"y":{"field":"y","type":"quantitative"}}},
{"data":{"name":"c1c"},"mark":{"type":"rect","width":8,"height":6.7},"encoding":{"x":{"field":"x","type":"quantitative"},"y":{"field":"y","type":"quantitative"},"color":{"condition":{"test":"datum.y>0","value":"#ee2027"},"value":"#3953a4"}}},
{"data":{"name":"c1c"},"transform":[{"filter":"abs(datum.y)>1.2"}],"mark":{"type":"point","style":"blob"},"encoding":{"x":{"field":"x","type":"quantitative"},"y":{"field":"y","type":"quantitative"},"color":{"condition":{"test":"datum.y>0","value":"#ee2027"},"value":"#3953a4"}}},
{"data":{"name":"c1"},"mark":{"type":"point","style":"dot"},"encoding":{"x":{"field":"x","type":"quantitative"},"y":{"field":"y","type":"quantitative"},"color":{"condition":{"test":"datum.y>0","value":"#ee2027"},"value":"#3953a4"}}}]},
{"data":{"values":[{}]},"mark":{"type":"point","opacity":0},"width":75,"height":10,"view":{"stroke":null}},
{"title":"TFAM-KO Enhancer","width":200,"height":228,"layer":[
{"data":{"name":"h4f"},"mark":{"type":"point","style":"flat"},"encoding":{"x":{"field":"x","type":"quantitative","title":"Log₂FDR","scale":{"domain":[-2.28,10.6],"nice":false,"zero":false},"axis":{"values":[-2,0,2,4,6,8,10],"titlePadding":4}},"y":{"field":"y","type":"quantitative","title":"Fold Change","scale":{"domain":[-4.35,4.33],"nice":false,"zero":false},"axis":{"values":[-4,-2,0,2,4],"labelAngle":-90}},"size":{"field":"s","type":"quantitative","legend":null,"scale":{"type":"pow","exponent":2,"domain":[0,10],"range":[0,25600]}},"color":{"field":"d","type":"quantitative","legend":null,"scale":{"domain":[0,0.3,0.6,0.85,1],"range":["#eef5fb","#b4d3e9","#2a7ab9","#0b4a90","#1a1a50"]}}}},
{"data":{"name":"h4r"},"mark":{"type":"point","style":"round"},"encoding":{"x":{"field":"x","type":"quantitative"},"y":{"field":"y","type":"quantitative"},"size":{"field":"s","type":"quantitative","legend":null},"color":{"field":"d","type":"quantitative","legend":null}}},
{"data":{"name":"c2"},"mark":{"type":"point","style":"halo"},"encoding":{"x":{"field":"x","type":"quantitative"},"y":{"field":"y","type":"quantitative"}}},
{"data":{"name":"c2c"},"mark":{"type":"rect","width":8,"height":6.7},"encoding":{"x":{"field":"x","type":"quantitative"},"y":{"field":"y","type":"quantitative"},"color":{"condition":{"test":"datum.y>0","value":"#ee2027"},"value":"#3953a4"}}},
{"data":{"name":"c2c"},"transform":[{"filter":"abs(datum.y)>1.2"}],"mark":{"type":"point","style":"blob"},"encoding":{"x":{"field":"x","type":"quantitative"},"y":{"field":"y","type":"quantitative"},"color":{"condition":{"test":"datum.y>0","value":"#ee2027"},"value":"#3953a4"}}},
{"data":{"name":"c2"},"mark":{"type":"point","style":"dot"},"encoding":{"x":{"field":"x","type":"quantitative"},"y":{"field":"y","type":"quantitative"},"color":{"condition":{"test":"datum.y>0","value":"#ee2027"},"value":"#3953a4"}}}]}
],"spacing":0,"bounds":"flush","resolve":{"scale":{"color":"independent","size":"independent"}}},
{"data":{"values":[{}]},"mark":{"type":"point","opacity":0},"width":1,"height":298,"view":{"stroke":null}},
{"hconcat":[
{"data":{"values":[{}]},"mark":{"type":"point","opacity":0},"width":3,"height":10,"view":{"stroke":null}},
{"title":{"text":"D","anchor":"start","frame":"group","dx":-50,"dy":11,"fontWeight":"bold","fontSize":14,"color":"#000"},"width":307,"height":151,"view":{"stroke":null},
"data":{"values":[{"s":"TFAM-KO","k":"DEGs w/ H3K27ac change","v":0.303,"o":1},{"s":"TFAM-KO","k":"DEGs w/o H3K27ac change","v":0.697,"o":2},{"s":"Rotenone","k":"DEGs w/ H3K27ac change","v":0.288,"o":1},{"s":"Rotenone","k":"DEGs w/o H3K27ac change","v":0.712,"o":2}]},
"mark":{"type":"bar"},
"encoding":{"y":{"field":"s","type":"nominal","title":null,"sort":["TFAM-KO","Rotenone"],"scale":{"paddingInner":0.6,"paddingOuter":0.3},"axis":{"domain":true,"domainColor":"#aaa","domainWidth":1.5,"tickColor":"#888","tickSize":5,"tickBand":"extent","labelColor":"#555","labelFontSize":9.5,"labelPadding":1}},
"x":{"field":"v","type":"quantitative","stack":"zero","title":null,"scale":{"domain":[0,1],"nice":false},"axis":{"values":[0,0.25,0.5,0.75,1],"format":".0%","domain":true,"domainColor":"#aaa","domainWidth":1.5,"tickSize":0,"labelColor":"#555","labelFontSize":10.5,"labelPadding":5,"labelFlush":false}},
"order":{"field":"o"},
"color":{"field":"k","type":"nominal","sort":null,"title":null,"scale":{"domain":["DEGs w/ H3K27ac change","DEGs w/o H3K27ac change"],"range":["#c6544f","#f2d1d0"]},"legend":{"orient":"none","legendX":3,"legendY":178,"direction":"horizontal","columns":2,"columnPadding":45,"symbolSize":100,"labelFontSize":8.8,"labelOffset":3,"labelColor":"#444"}}}},
{"title":{"text":"E","anchor":"end","dx":16,"dy":11,"fontWeight":"bold","fontSize":14,"color":"#000"},"data":{"values":[{}]},"mark":{"type":"point","opacity":0},"width":97,"height":10,"view":{"stroke":null}},
{"title":{"text":"Rotenone","orient":"bottom","dy":-31,"fontSize":11.5,"color":"#222"},"width":100,"height":174,"view":{"stroke":null},
"data":{"values":[{"r":"Promoter regions","v":0.12,"o":1},{"r":"Enhancer regions","v":0.81,"o":2},{"r":"Other regions","v":0.07,"o":3}]},
"layer":[{"mark":{"type":"arc","outerRadius":44.5},"encoding":{"theta":{"field":"v","type":"quantitative","stack":true},"order":{"field":"o"},"color":{"field":"r","type":"nominal","sort":null,"legend":null,"scale":{"domain":["Promoter regions","Enhancer regions","Other regions"],"range":["#4f81bd","#b4bf4f","#b35aa3"]}}}},
{"mark":{"type":"text","radius":34,"fontSize":7.5,"color":"#222"},"encoding":{"theta":{"field":"v","type":"quantitative","stack":true},"order":{"field":"o"},"text":{"field":"v","format":".0%"}}}]},
{"data":{"values":[{}]},"mark":{"type":"point","opacity":0},"width":28,"height":10,"view":{"stroke":null}},
{"title":{"text":"TFAM-KO","orient":"bottom","dy":-29,"dx":3,"fontSize":11.5,"color":"#222"},"width":100,"height":172,"view":{"stroke":null},
"data":{"values":[{"r":"Promoter regions","v":0.1,"o":1},{"r":"Enhancer regions","v":0.83,"o":2},{"r":"Other regions","v":0.07,"o":3}]},
"layer":[{"mark":{"type":"arc","outerRadius":44.5},"encoding":{"theta":{"field":"v","type":"quantitative","stack":true},"order":{"field":"o"},"color":{"field":"r","type":"nominal","sort":null,"title":null,"scale":{"domain":["Promoter regions","Enhancer regions","Other regions"],"range":["#4f81bd","#b4bf4f","#b35aa3"]},"legend":{"orient":"none","legendX":113,"legendY":36,"symbolSize":100,"labelFontSize":9,"labelOffset":5,"rowPadding":6.5,"labelColor":"#333"}}}},
{"mark":{"type":"text","radius":34,"fontSize":7.5,"color":"#222"},"encoding":{"theta":{"field":"v","type":"quantitative","stack":true},"order":{"field":"o"},"text":{"field":"v","format":".0%"}}}]}
],"spacing":0,"bounds":"flush","resolve":{"scale":{"color":"independent","theta":"independent"},"legend":{"color":"independent"}}}
]}
